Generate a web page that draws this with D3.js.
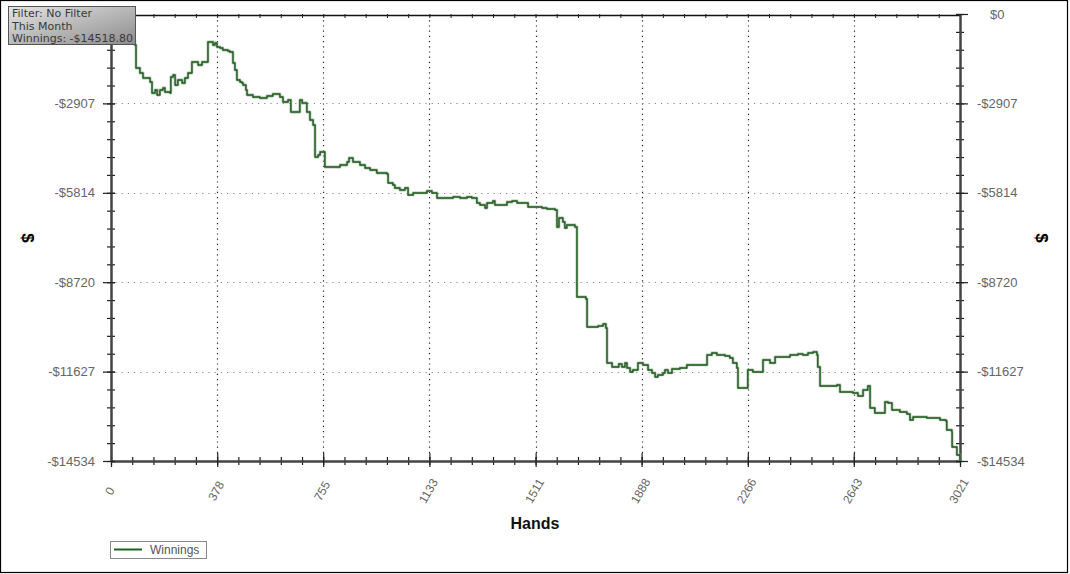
<!DOCTYPE html>
<html>
<head>
<meta charset="utf-8">
<script src="https://cdn.jsdelivr.net/npm/d3@7"></script>
<style>
  html, body { margin: 0; padding: 0; background: #fff; }
  svg { display: block; }
</style>
</head>
<body>
<svg id="chart" width="1070" height="574"></svg>
<script>
// ---- Data ----
const hands = [0,25,53,78,85,89,103,114,139,146,157,164,174,185,192,210,213,221,228,238,253,263,274,288,306,310,324,340,345,358,363,370,377,388,398,416,423,434,441,448,459,466,470,480,484,505,530,555,576,601,612,630,640,665,672,680,697,708,719,726,737,744,755,761,815,840,847,861,886,904,922,946,982,986,1003,1010,1028,1046,1057,1075,1100,1124,1142,1160,1195,1217,1242,1267,1284,1302,1313,1331,1338,1359,1366,1409,1427,1445,1466,1484,1510,1534,1551,1580,1587,1594,1608,1615,1622,1651,1658,1690,1694,1733,1751,1761,1765,1783,1807,1818,1829,1836,1847,1857,1875,1893,1911,1925,1936,1946,1964,1971,1982,1996,2024,2049,2113,2121,2138,2156,2185,2202,2213,2227,2231,2262,2266,2284,2316,2320,2338,2345,2363,2416,2444,2462,2480,2498,2512,2515,2523,2559,2583,2594,2640,2658,2676,2693,2701,2718,2750,2754,2765,2779,2807,2832,2843,2854,2903,2950,2971,2974,2992,2993,3003,3010,3021];
const winnings = [0,-260,-520,-845,-1008,-1756,-1918,-2081,-2211,-2568,-2471,-2633,-2471,-2406,-2536,-2568,-2048,-1983,-2308,-2146,-2243,-2081,-1918,-1560,-1560,-1658,-1560,-1560,-910,-910,-1008,-943,-1073,-1105,-1170,-1203,-1235,-1593,-1821,-2146,-2211,-2243,-2308,-2471,-2633,-2698,-2731,-2666,-2601,-2698,-2861,-2796,-3186,-3186,-2796,-2893,-3186,-3446,-3609,-4649,-4584,-4486,-4486,-4974,-4909,-4811,-4681,-4811,-4909,-5007,-5072,-5169,-5202,-5494,-5559,-5657,-5722,-5657,-5884,-5819,-5819,-5754,-5819,-5982,-5982,-5949,-5982,-5949,-5982,-6144,-6209,-6307,-6144,-6079,-6209,-6112,-6079,-6144,-6144,-6274,-6274,-6307,-6339,-6372,-6925,-6632,-6762,-6957,-6860,-6925,-9200,-9265,-10176,-10143,-10078,-10208,-11346,-11476,-11379,-11476,-11346,-11509,-11639,-11574,-11346,-11411,-11574,-11671,-11801,-11736,-11671,-11574,-11671,-11541,-11509,-11411,-11411,-11086,-11021,-11086,-11118,-11183,-11346,-11509,-12159,-12159,-11574,-11639,-11639,-11248,-11248,-11346,-11151,-11086,-11053,-11086,-11021,-10988,-11086,-11476,-12094,-12094,-12061,-12289,-12321,-12419,-12224,-12094,-12809,-12971,-12971,-12614,-12646,-12874,-12939,-13004,-13199,-13101,-13134,-13199,-13232,-13524,-13589,-14077,-14077,-14337,-14519];
const xTickValues = [0,378,755,1133,1511,1888,2266,2643,3021];
const yTickValues = [0,-2907,-5814,-8720,-11627,-14534];
const yTickLabels = ["$0","-$2907","-$5814","-$8720","-$11627","-$14534"];
const filterLines = ["Filter: No Filter","This Month","Winnings: -$14518.80"];
const seriesName = "Winnings";

const data = hands.map((h,i)=>({h, v: winnings[i]}));

// ---- Layout ----
const svg = d3.select("#chart");
const L = 111, R = 960, T = 14, B = 461;
const x = d3.scaleLinear().domain([0,3021]).range([L,R]);
const y = d3.scaleLinear().domain([-14534,0]).range([B,T]);
const tickFont = "'Liberation Sans', Arial, sans-serif";

// outer frame
svg.append("rect").attr("x",0.5).attr("y",0.5).attr("width",1067).attr("height",572)
  .attr("fill","#fff").attr("stroke","#000").attr("stroke-width",1.2);

// gridlines
const grid = svg.append("g");
grid.selectAll("line.vg").data(xTickValues.slice(1,-1)).join("line")
  .attr("x1",d=>Math.round(x(d))+0.5).attr("x2",d=>Math.round(x(d))+0.5)
  .attr("y1",T+1).attr("y2",B)
  .attr("stroke","#222").attr("stroke-width",1.2).attr("stroke-dasharray","1.2,4");
grid.selectAll("line.hg").data(yTickValues.slice(1,-1)).join("line")
  .attr("x1",L-8).attr("x2",R+8)
  .attr("y1",d=>Math.round(y(d))+0.5).attr("y2",d=>Math.round(y(d))+0.5)
  .attr("stroke","#888").attr("stroke-width",1.2).attr("stroke-dasharray","1.2,5");

// minor ticks
const xMinor = d3.range(0,41).map(i=>i*3021/40);
const yMinor = d3.range(0,26).map(i=>-i*14534/25);

function styleAxis(g){
  g.select(".domain").attr("stroke","#444").attr("stroke-width",2);
  g.selectAll(".tick line").attr("stroke","#222").attr("stroke-width",1.2);
  g.selectAll("text").attr("fill","#666").style("font-family",tickFont);
}

// bottom minor ticks (both sides)
const bm = svg.append("g").attr("transform",`translate(0,${B})`)
  .call(d3.axisBottom(x).tickValues(xMinor).tickSize(4).tickSizeOuter(0).tickFormat(""));
bm.selectAll(".tick line").attr("y1",-4);
styleAxis(bm);
// bottom major ticks
const bM = svg.append("g").attr("transform",`translate(0,${B})`)
  .call(d3.axisBottom(x).tickValues(xTickValues).tickSize(6).tickSizeOuter(0).tickFormat(""));
bM.selectAll(".tick line").attr("y1",-8);
styleAxis(bM);
// bottom labels
svg.append("g").selectAll("text").data(xTickValues).join("text")
  .attr("transform",d=>`translate(${x(d)-1},${491}) rotate(-60)`)
  .attr("text-anchor","middle").attr("dominant-baseline","central")
  .attr("fill","#666").style("font-family",tickFont).style("font-size","12px")
  .text(d=>d);

// top axis
const tm = svg.append("g").attr("transform",`translate(0,${T+1})`)
  .call(d3.axisTop(x).tickValues(xMinor).tickSize(3).tickSizeOuter(0).tickFormat(""));
tm.selectAll(".tick line").attr("y1",3).attr("y2",-1);
tm.select(".domain").attr("stroke","#111").attr("stroke-width",1.5);
tm.selectAll(".tick line").attr("stroke","#222");

// left axis (top label hidden beneath the filter box in the reference)
const lm = svg.append("g").attr("transform",`translate(${L},0)`)
  .call(d3.axisLeft(y).tickValues(yMinor).tickSize(4).tickSizeOuter(0).tickFormat(""));
lm.selectAll(".tick line").attr("x1",4);
styleAxis(lm);
const lM = svg.append("g").attr("transform",`translate(${L},0)`)
  .call(d3.axisLeft(y).tickValues(yTickValues).tickSize(8).tickSizeOuter(0)
    .tickFormat((d,i)=> i===0 ? "" : yTickLabels[i]).tickPadding(8));
lM.selectAll(".tick line").attr("x1",4);
styleAxis(lM);
lM.selectAll("text").style("font-size","13px");

// right axis
const rm = svg.append("g").attr("transform",`translate(${R},0)`)
  .call(d3.axisRight(y).tickValues(yMinor).tickSize(4).tickSizeOuter(0).tickFormat(""));
rm.selectAll(".tick line").attr("x1",-4);
styleAxis(rm);
const rM = svg.append("g").attr("transform",`translate(${R},0)`)
  .call(d3.axisRight(y).tickValues(yTickValues).tickSize(8).tickSizeOuter(0)
    .tickFormat((d,i)=>yTickLabels[i]).tickPadding(9));
rM.selectAll(".tick line").attr("x1",-4);
styleAxis(rM);
rM.selectAll("text").style("font-size","13px");
rM.selectAll(".tick").filter(d=>d===0).select("text").attr("dx",13);

// line
const line = d3.line().x(d=>x(d.h)).y(d=>y(d.v)).curve(d3.curveStepAfter);
svg.append("path").datum(data).attr("d",line).attr("fill","none")
  .attr("stroke","#9aa69a").attr("stroke-width",2.8).attr("stroke-linejoin","round").attr("opacity",0.75);
svg.append("path").datum(data).attr("d",line).attr("fill","none")
  .attr("stroke","#1d5f1d").attr("stroke-width",1.4).attr("stroke-linejoin","round");

// axis titles
svg.append("text").attr("transform","translate(22,238) rotate(90)")
  .attr("text-anchor","middle").style("font-family",tickFont).style("font-weight","bold")
  .style("font-size","17px").attr("fill","#000").text("$");
svg.append("text").attr("transform","translate(1036,238) rotate(90)")
  .attr("text-anchor","middle").style("font-family",tickFont).style("font-weight","bold")
  .style("font-size","17px").attr("fill","#000").text("$");
svg.append("text").attr("x",535).attr("y",529).attr("text-anchor","middle")
  .style("font-family",tickFont).style("font-weight","bold").style("font-size","16px")
  .attr("fill","#111").text("Hands");

// filter box
const defs = svg.append("defs");
const grad = defs.append("linearGradient").attr("id","fbg").attr("x1","0").attr("y1","0").attr("x2","1").attr("y2","1");
grad.append("stop").attr("offset","0%").attr("stop-color","#e4e4e4");
grad.append("stop").attr("offset","100%").attr("stop-color","#8c8c8c");
svg.append("rect").attr("x",8.5).attr("y",6.5).attr("width",127).attr("height",38)
  .attr("fill","url(#fbg)").attr("stroke","#555").attr("stroke-width",1);
svg.append("g").selectAll("text").data(filterLines).join("text")
  .attr("x",12).attr("y",(d,i)=>17+i*12.5)
  .style("font-family","'DejaVu Sans', Verdana, sans-serif").style("font-size","11px")
  .attr("fill","#3a3a3a").text(d=>d);

// legend
svg.append("rect").attr("x",110.5).attr("y",541.5).attr("width",96).attr("height",17)
  .attr("fill","#fff").attr("stroke","#888");
svg.append("line").attr("x1",114).attr("x2",142).attr("y1",549.5).attr("y2",549.5)
  .attr("stroke","#1f621f").attr("stroke-width",2);
svg.append("text").attr("x",150).attr("y",554).style("font-family",tickFont)
  .style("font-size","12px").attr("fill","#555").text(seriesName);
</script>
</body>
</html>
